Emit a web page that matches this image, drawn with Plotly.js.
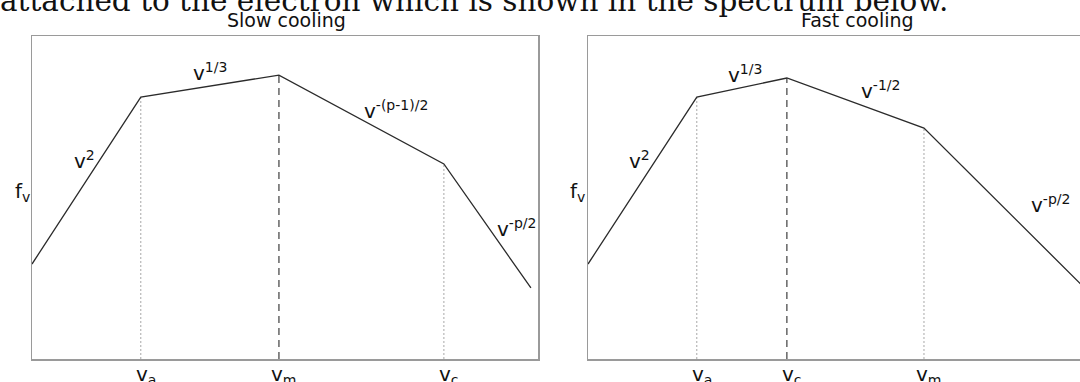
<!DOCTYPE html>
<html>
<head>
<meta charset="utf-8">
<script src="https://cdn.plot.ly/plotly-3.0.1.min.js"></script>
<style>html,body{margin:0;padding:0;background:#fff;}#chart{width:1080px;height:382px;}</style>
</head>
<body>
<div id="chart"></div>
<script>
// ---- data (log-frequency, log-flux in arbitrary units) ----
const slowX = [0, 2.15, 4.88, 8.14, 9.86];
const slowY = [2.94, 8.11, 8.79, 6.04, 2.20];
const slowBreaks = ['v<sub>a</sub>', 'v<sub>m</sub>', 'v<sub>c</sub>'];
const slowSlopes = ['v<sup>2</sup>', 'v<sup>1/3</sup>', 'v<sup>-(p-1)/2</sup>', 'v<sup>-p/2</sup>'];

const fastX = [0, 2.15, 3.93, 6.64, 10.0];
const fastY = [2.94, 8.11, 8.70, 7.15, 1.91];
const fastBreaks = ['v<sub>a</sub>', 'v<sub>c</sub>', 'v<sub>m</sub>'];
const fastSlopes = ['v<sup>2</sup>', 'v<sup>1/3</sup>', 'v<sup>-1/2</sup>', 'v<sup>-p/2</sup>'];

const panelTitles = ['Slow cooling', 'Fast cooling'];
const yLabel = 'f<sub>v</sub>';
const caption = 'attached to the electron which is shown in the spectrum below.';

// ---- layout helpers ----
const W = 1080, H = 382;
const px = x => x / W;
const py = y => 1 - y / H;
const SANS = 'DejaVu Sans, sans-serif';

// which break gets the dashed (bold) line
const slowStyles = ['dot', 'dash', 'dot'];
const fastStyles = ['dot', 'dash', 'dot'];

function breakTraces(X, Y, styles, xa, ya) {
  const out = [];
  for (let i = 1; i <= 3; i++) {
    const dashed = styles[i - 1] === 'dash';
    out.push({
      x: [X[i], X[i]], y: [0, Y[i]], xaxis: xa, yaxis: ya,
      mode: 'lines', hoverinfo: 'skip',
      line: dashed ? {color: '#5a5a5a', width: 1.4, dash: '7px,5px'}
                   : {color: '#a8a8a8', width: 1, dash: '2px,2px'}
    });
  }
  return out;
}

const data = [
  ...breakTraces(slowX, slowY, slowStyles, 'x', 'y'),
  {x: slowX, y: slowY, xaxis: 'x', yaxis: 'y', mode: 'lines', line: {color: '#2b2b2b', width: 1.3}},
  ...breakTraces(fastX, fastY, fastStyles, 'x2', 'y2'),
  {x: fastX, y: fastY, xaxis: 'x2', yaxis: 'y2', mode: 'lines', line: {color: '#2b2b2b', width: 1.3}}
];

const axisBase = {showgrid: false, zeroline: false, showticklabels: false, ticks: '',
                  showline: true, linecolor: '#9a9a9a', linewidth: 1.5, fixedrange: true};
const yDom = [py(359), py(36)];

const anns = [];
function txt(text, x, y, xref, opts) {
  anns.push(Object.assign({text, x, y, xref, yref: 'paper', showarrow: false,
    font: {family: SANS, size: 20, color: '#111'}, xanchor: 'center', yanchor: 'middle'}, opts || {}));
}

// caption from the page above (cut at the top)
txt(caption, px(-2), py(20), 'paper', {xanchor: 'left', yanchor: 'bottom',
  font: {family: 'DejaVu Serif, serif', size: 29.5, color: '#111'}});
// panel titles
txt(panelTitles[0], px(286), py(20), 'paper', {font: {family: SANS, size: 19, color: '#111'}});
txt(panelTitles[1], px(857), py(20), 'paper', {font: {family: SANS, size: 19, color: '#111'}});
// y labels
txt(yLabel, px(22), py(192), 'paper');
txt(yLabel, px(577), py(192), 'paper');
// break labels
slowBreaks.forEach((t, i) => txt(t, slowX[i + 1], py(375), 'x', {xshift: 5}));
fastBreaks.forEach((t, i) => txt(t, fastX[i + 1], py(375), 'x2', {xshift: 5}));
// slope labels (pixel positions of label centres)
const slowLabPos = [[84, 160], [210, 72], [396, 110], [516, 228]];
const fastLabPos = [[639, 160], [745, 74], [880, 90], [1050, 204]];
slowSlopes.forEach((t, i) => txt(t, px(slowLabPos[i][0]), py(slowLabPos[i][1]), 'paper'));
fastSlopes.forEach((t, i) => txt(t, px(fastLabPos[i][0]), py(fastLabPos[i][1]), 'paper'));

const layout = {
  width: W, height: H, margin: {l: 0, r: 0, t: 0, b: 0},
  paper_bgcolor: '#fff', plot_bgcolor: '#fff', showlegend: false,
  xaxis: Object.assign({}, axisBase, {domain: [px(32), px(538)], range: [0, 10], mirror: true}),
  yaxis: Object.assign({}, axisBase, {domain: yDom, range: [0, 10], mirror: true}),
  xaxis2: Object.assign({}, axisBase, {domain: [px(588), 1], range: [0, (1080 - 588) / 50.6], mirror: true, anchor: 'y2'}),
  yaxis2: Object.assign({}, axisBase, {domain: yDom, range: [0, 10], mirror: false, anchor: 'x2'}),
  annotations: anns
};

Plotly.newPlot('chart', data, layout, {displayModeBar: false, staticPlot: true});
</script>
</body>
</html>
